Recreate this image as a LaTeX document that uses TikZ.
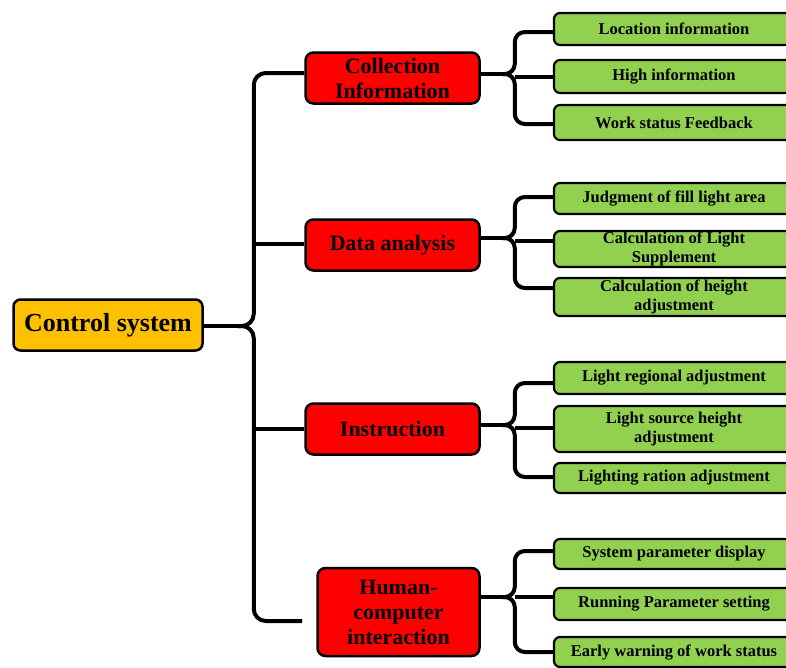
\documentclass[tikz,border=0pt]{standalone}
\usepackage{fontspec}
\setmainfont{Liberation Serif}
\usetikzlibrary{calc}
\definecolor{yel}{HTML}{FFC000}
\definecolor{rd}{HTML}{FF0000}
\definecolor{grn}{HTML}{92D050}
\tikzset{
  bl/.style={line width=4pt, black, line join=round},
  rootbox/.style={draw, line width=2.5pt, rounded corners=7pt, fill=yel, inner sep=0pt,
    minimum width=189pt, minimum height=51pt, font=\fontsize{26}{30}\selectfont\bfseries},
  redbox/.style={draw, line width=2.5pt, rounded corners=8pt, fill=rd, inner sep=0pt,
    align=center, minimum width=174pt, minimum height=51pt, font=\fontsize{22}{25}\selectfont\bfseries},
  greenbox/.style={draw, line width=2.2pt, rounded corners=6pt, fill=grn, inner sep=0pt,
    align=center, minimum width=240pt, font=\fontsize{16.5}{18.5}\selectfont\bfseries},
}
\newcommand\mybrc[8]{%
  \draw[bl, rounded corners=10pt] ([yshift=#4]#3.west) -| ([xshift=34pt,yshift=#2]#1.east) -- ([xshift=22pt,yshift=#2]#1.east);
  \draw[bl, rounded corners=10pt] ([yshift=#8]#7.west) -| ([xshift=34pt,yshift=#2]#1.east) -- ([xshift=22pt,yshift=#2]#1.east);
  \draw[bl] ([yshift=#2]#1.east) -- ([xshift=26pt,yshift=#2]#1.east);
  \draw[bl] ([yshift=#6]#5.west) -- ++(-38pt,0);
}
\begin{document}
\begin{tikzpicture}[x=1pt,y=-1pt]
\useasboundingbox (0,0) rectangle (786,667);
% nodes
\node[rootbox] (cs) at (108,325) {Control system};
\node[redbox] (ci) at (392.5,78) {Collection\\Information};
\node[redbox] (da) at (392.5,245) {Data analysis};
\node[redbox] (in) at (392.5,429) {Instruction};
\node[redbox, minimum width=162pt, minimum height=88pt] (hc) at (398.5,612) {Human-\\computer\\interaction};
\coordinate (hcend) at (302,621);
% group 1
\node[greenbox, minimum height=32pt] (g11) at (674,29) {Location information};
\node[greenbox, minimum height=33pt] (g12) at (674,76.5) {High information};
\node[greenbox, minimum height=35pt] (g13) at (674,122.5) {Work status Feedback};
% group 2
\node[greenbox, minimum height=31pt] (g21) at (674,198.5) {Judgment of fill light area};
\node[greenbox, minimum height=36pt] (g22) at (674,249) {Calculation of Light\\Supplement};
\node[greenbox, minimum height=38pt] (g23) at (674,297) {Calculation of height\\adjustment};
% group 3
\node[greenbox, minimum height=32pt] (g31) at (674,378) {Light regional adjustment};
\node[greenbox, minimum height=46pt] (g32) at (674,429) {Light source height\\adjustment};
\node[greenbox, minimum height=30pt] (g33) at (674,478) {Lighting ration adjustment};
% group 4
\node[greenbox, minimum height=30pt] (g41) at (674,554) {System parameter display};
\node[greenbox, minimum height=32pt] (g42) at (674,604) {Running Parameter setting};
\node[greenbox, minimum height=30pt] (g43) at (674,652) {Early warning of work status};
% main brace
\draw[bl, rounded corners=12pt] ([yshift=5pt]ci.west) -| ([xshift=50pt,yshift=-1pt]cs.east) -- ([xshift=34pt,yshift=-1pt]cs.east);
\draw[bl, rounded corners=12pt] (hcend) -| ([xshift=50pt,yshift=-1pt]cs.east) -- ([xshift=34pt,yshift=-1pt]cs.east);
\draw[bl] ([yshift=-1pt]cs.east) -- ([xshift=38pt,yshift=-1pt]cs.east);
\draw[bl] ([yshift=1pt]da.west) -- ++(-50pt,0);
\draw[bl] (in.west) -- ++(-50pt,0);
% sub braces
\mybrc{ci}{4pt}{g11}{-3pt}{g12}{0pt}{g13}{-1.5pt}
\mybrc{da}{7pt}{g21}{1.5pt}{g22}{8pt}{g23}{9pt}
\mybrc{in}{4pt}{g31}{-5pt}{g32}{1pt}{g33}{1pt}
\mybrc{hc}{15pt}{g41}{3pt}{g42}{7pt}{g43}{0pt}
\end{tikzpicture}
\end{document}
